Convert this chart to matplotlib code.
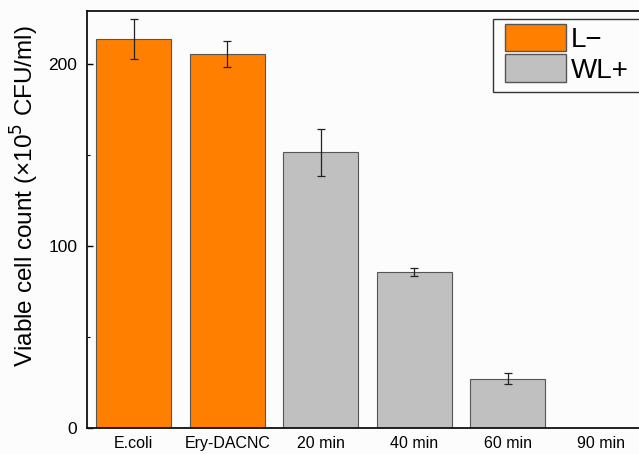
import matplotlib
matplotlib.use("Agg")
import matplotlib.pyplot as plt
from matplotlib.patches import Patch, Rectangle
import numpy as np

plt.rcParams['font.family'] = ['Liberation Sans', 'DejaVu Sans']

categories = ["E.coli", "Ery-DACNC", "20 min", "40 min", "60 min", "90 min"]
values = [214, 205.5, 151.5, 85.7, 27.1, 0]
errors = [11, 7, 13, 2.2, 3, 0]
groups = ["L\u2212", "L\u2212", "WL+", "WL+", "WL+", "WL+"]
group_colors = {"L\u2212": "#FF8000", "WL+": "#C0C0C0"}

W, H = 639, 454
fig = plt.figure(figsize=(W / 100, H / 100), dpi=100)
bg = "#fcfcfc"
fig.patch.set_facecolor(bg)

left, right, top, bottom = 87, 648, 10.7, 428
ax = fig.add_axes([left / W, 1 - bottom / H, (right - left) / W, (bottom - top) / H])
ax.set_facecolor(bg)

x = np.arange(len(categories))
colors = [group_colors[g] for g in groups]
ax.bar(x, values, width=0.8, color=colors, edgecolor="#555555", linewidth=0.8, zorder=2)
for xi, v, e in zip(x, values, errors):
    if e > 0:
        ax.errorbar(xi, v, yerr=e, fmt="none", ecolor="#222222", elinewidth=0.9,
                    capsize=3, capthick=0.9, zorder=3)

ax.set_xlim(-0.5, len(categories) - 0.5)
ax.set_ylim(0, 229.3)
ax.set_xticks(x)
ax.set_xticklabels(categories, fontsize=11.5)
ax.set_yticks([0, 100, 200])
ax.set_yticks([50, 150], minor=True)
ax.tick_params(axis='y', which='major', direction='in', length=4, width=1, labelsize=12.5, pad=7)
ax.tick_params(axis='y', which='minor', direction='in', length=2.5, width=0.8)
ax.tick_params(axis='x', length=0, pad=6)

for s in ["left", "bottom", "top", "right"]:
    ax.spines[s].set_linewidth(1.3)
    ax.spines[s].set_color("#111111")

ax.set_ylabel("Viable cell count (\u00d710$^5$ CFU/ml)", fontsize=17.5)
ax.yaxis.set_label_coords(-0.082, 0.555)

# legend frame (extends past the right edge like the reference)
frame = Rectangle((492.7 / W, 1 - 91.7 / H), (660 - 492.7) / W, (91.7 - 19.3) / H,
                  transform=fig.transFigure, facecolor=bg, edgecolor="#333333",
                  linewidth=1.0, zorder=4)
fig.add_artist(frame)

handles = [Patch(facecolor=group_colors["L\u2212"], edgecolor="#555555", label="L\u2212"),
           Patch(facecolor=group_colors["WL+"], edgecolor="#555555", label="WL+")]
leg = fig.legend(handles=handles, loc="upper left", bbox_to_anchor=(505 / W, 1 - 23.5 / H),
                 bbox_transform=fig.transFigure, fontsize=20, handlelength=2.18,
                 handleheight=1.16, labelspacing=0.06, borderpad=0, handletextpad=0.18,
                 borderaxespad=0, frameon=False)
leg.set_zorder(5)

fig.savefig("out.png", dpi=100, facecolor=bg)
